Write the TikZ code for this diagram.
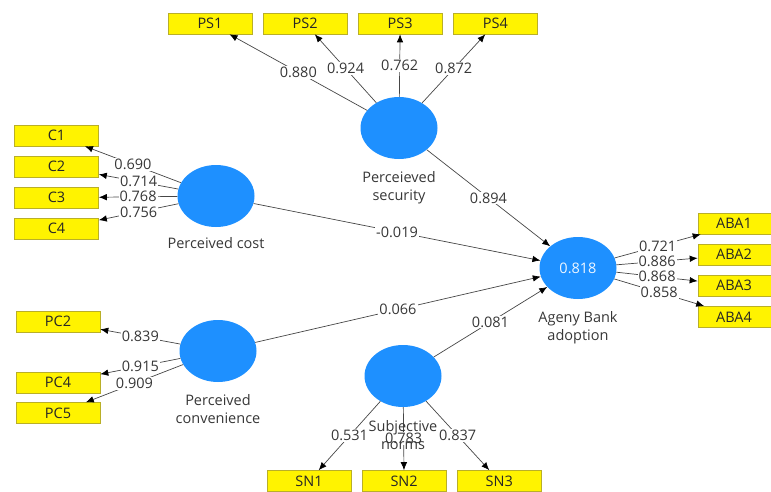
\documentclass[tikz,border=0pt]{standalone}
\usepackage{fontspec}
\setmainfont{Open Sans}
\usetikzlibrary{shapes.geometric, arrows.meta, positioning}
\definecolor{lvblue}{RGB}{30,144,255}
\definecolor{mvyellow}{RGB}{255,243,0}
\definecolor{mvedge}{RGB}{185,175,40}
\definecolor{pathgray}{RGB}{70,70,70}
\definecolor{txtgray}{RGB}{55,55,55}

\begin{document}
\begin{tikzpicture}[x=1pt, y=-1pt,
        font=\fontsize{14.5}{18}\selectfont,
        latent/.style={ellipse, fill=lvblue, minimum width=77pt, minimum height=62pt, inner sep=0pt, text=white!92!lvblue},
        indicator/.style={draw=mvedge, fill=mvyellow, line width=0.6pt, minimum width=84pt, minimum height=21pt, inner sep=0pt, text=black!85},
        lvname/.style={align=center, inner sep=0pt, text=txtgray},
        loading/.style={-{Latex[length=8pt, width=6.5pt, color=black]}, draw=pathgray, line width=0.7pt},
        coef/.style={fill=white, inner sep=1pt, text=txtgray}
    ]
        \useasboundingbox (0,0) rectangle (771,491);

        % latent variables
        \node[latent] (sec)  at (399,128) {};
        \node[latent] (cost) at (216,196) {};
        \node[latent] (aba)  at (578,268) {0.818};
        \node[latent] (conv) at (218,351) {};
        \node[latent] (sn)   at (403,376) {};

        % indicators
        \node[indicator] (ps1) at (210,23.5) {PS1};
        \node[indicator, right=10.5pt of ps1] (ps2) {PS2};
        \node[indicator, right=10.5pt of ps2] (ps3) {PS3};
        \node[indicator, right=10.5pt of ps3] (ps4) {PS4};

        \node[indicator] (c1) at (56.5,135.5) {C1};
        \node[indicator, below=9.5pt of c1] (c2) {C2};
        \node[indicator, below=9.5pt of c2] (c3) {C3};
        \node[indicator, below=9.5pt of c3] (c4) {C4};

        \node[indicator] (aba1) at (740,223.5) {\hspace*{-12pt}ABA1};
        \node[indicator, below=9.5pt of aba1] (aba2) {\hspace*{-12pt}ABA2};
        \node[indicator, below=9.5pt of aba2] (aba3) {\hspace*{-12pt}ABA3};
        \node[indicator, below=9.5pt of aba3] (aba4) {\hspace*{-12pt}ABA4};

        \node[indicator] (pc2) at (58,321.5) {PC2};
        \node[indicator] (pc4) at (58,382.5) {PC4};
        \node[indicator, below=9pt of pc4] (pc5) {PC5};

        \node[indicator] (sn1) at (309,481) {SN1};
        \node[indicator, right=10.5pt of sn1] (sn2) {SN2};
        \node[indicator, right=10.5pt of sn2] (sn3) {SN3};

        % outer loadings
        \draw[loading] (sec) -- node[coef]{0.880} (ps1);
        \draw[loading] (sec) -- node[coef]{0.924} (ps2);
        \draw[loading] (sec) -- node[coef]{0.762} (ps3);
        \draw[loading] (sec) -- node[coef]{0.872} (ps4);

        \draw[loading] (cost) -- node[coef]{0.690} (c1);
        \draw[loading] (cost) -- node[coef]{0.714} (c2);
        \draw[loading] (cost) -- node[coef]{0.768} (c3);
        \draw[loading] (cost) -- node[coef]{0.756} (c4);

        \draw[loading] (aba) -- node[coef]{0.721} (aba1);
        \draw[loading] (aba) -- node[coef]{0.886} (aba2);
        \draw[loading] (aba) -- node[coef]{0.868} (aba3);
        \draw[loading] (aba) -- node[coef]{0.858} (aba4);

        \draw[loading] (conv) -- node[coef]{0.839} (pc2);
        \draw[loading] (conv) -- node[coef]{0.915} (pc4);
        \draw[loading] (conv) -- node[coef]{0.909} (pc5);

        \draw[loading] (sn) -- node[coef]{0.531} (sn1);
        \draw[loading] (sn) -- node[coef]{0.783} (sn2);
        \draw[loading] (sn) -- node[coef]{0.837} (sn3);

        % path coefficients
        \draw[loading] (sec)  -- node[coef]{0.894} (aba);
        \draw[loading] (cost) -- node[coef]{-0.019} (aba);
        \draw[loading] (conv) -- node[coef]{0.066} (aba);
        \draw[loading] (sn)   -- node[coef]{0.081} (aba);

        % construct names
        \node[lvname, below=12pt of sec]  (secname)  {Perceieved\\security};
        \node[lvname, below=10pt of cost] (costname) {Perceived cost};
        \node[lvname, below=12pt of aba]  (abaname)  {Ageny Bank\\adoption};
        \node[lvname, below=12pt of conv] (convname) {Perceived\\convenience};
        \node[lvname, below=13pt of sn]   (snname)   {Subjective\\norms};
    \end{tikzpicture}
\end{document}
